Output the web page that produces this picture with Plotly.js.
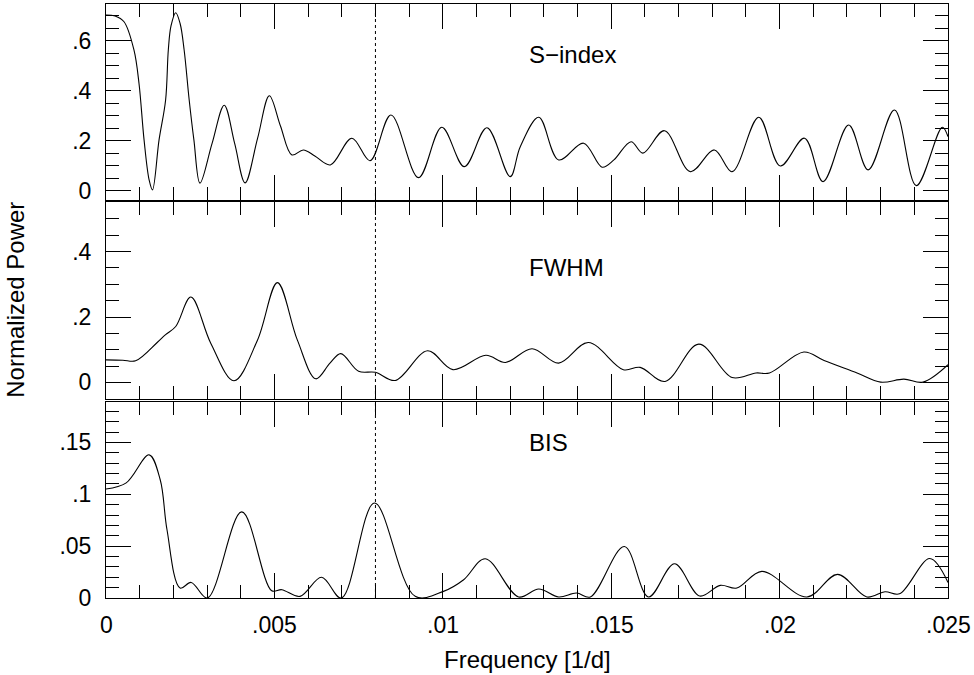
<!DOCTYPE html>
<html>
<head>
<meta charset="utf-8">
<script src="https://cdn.plot.ly/plotly-3.0.1.min.js"></script>
<style>html,body{margin:0;padding:0;background:#fff;}#chart{width:974px;height:675px;}</style>
</head>
<body>
<div id="chart"></div>
<script>
// ---- data ----
const sFreq = [0, 0.00027, 0.000535, 0.00083, 0.00098, 0.00113, 0.00128, 0.00138, 0.001575, 0.00177, 0.00185, 0.00193, 0.00207, 0.0022, 0.00232, 0.00247, 0.00261, 0.00279, 0.00315, 0.00351, 0.00382, 0.00413, 0.0045, 0.00485, 0.00518, 0.00552, 0.00586, 0.0062, 0.00666, 0.0073, 0.00784, 0.00846, 0.00928, 0.00997, 0.01064, 0.01131, 0.012, 0.0123, 0.01285, 0.01344, 0.01418, 0.01473, 0.01508, 0.01559, 0.01594, 0.01658, 0.01735, 0.01806, 0.01859, 0.01938, 0.02002, 0.02074, 0.02129, 0.02205, 0.02263, 0.02341, 0.02406, 0.02483, 0.025];
const sPower = [0.704, 0.700, 0.677, 0.564, 0.43, 0.204, 0.044, 0.004, 0.204, 0.364, 0.564, 0.66, 0.713, 0.67, 0.564, 0.364, 0.204, 0.031, 0.19, 0.343, 0.19, 0.032, 0.21, 0.381, 0.26, 0.144, 0.164, 0.14, 0.104, 0.211, 0.121, 0.304, 0.053, 0.255, 0.097, 0.253, 0.057, 0.177, 0.295, 0.124, 0.191, 0.095, 0.124, 0.197, 0.151, 0.241, 0.077, 0.164, 0.077, 0.295, 0.100, 0.211, 0.037, 0.264, 0.084, 0.324, 0.021, 0.255, 0.217];

const fFreq = [0, 0.0005, 0.00088, 0.00152, 0.00177, 0.00207, 0.00252, 0.00311, 0.0038, 0.0045, 0.00509, 0.00568, 0.00623, 0.00665, 0.00697, 0.0075, 0.008, 0.00859, 0.00955, 0.0103, 0.01128, 0.01186, 0.01265, 0.01344, 0.01432, 0.01536, 0.01586, 0.0166, 0.0176, 0.01859, 0.0193, 0.0197, 0.02072, 0.02132, 0.0223, 0.023, 0.02369, 0.02426, 0.025];
const fPower = [0.069, 0.068, 0.066, 0.122, 0.146, 0.171, 0.261, 0.12, 0.005, 0.13, 0.305, 0.13, 0.011, 0.059, 0.088, 0.034, 0.031, 0.006, 0.097, 0.039, 0.083, 0.061, 0.103, 0.059, 0.122, 0.039, 0.046, 0.003, 0.117, 0.015, 0.029, 0.029, 0.093, 0.067, 0.029, 0.001, 0.010, 0.001, 0.054];

const bFreq = [0, 0.0006, 0.00128, 0.00161, 0.00181, 0.0022, 0.00253, 0.00301, 0.00403, 0.00492, 0.00522, 0.00576, 0.0064, 0.00699, 0.00797, 0.00918, 0.01002, 0.01062, 0.01126, 0.01225, 0.01285, 0.01344, 0.01397, 0.01438, 0.01539, 0.01611, 0.01688, 0.01763, 0.01824, 0.01873, 0.01947, 0.02081, 0.02172, 0.02259, 0.02313, 0.02356, 0.02446, 0.025];
const bPower = [0.105, 0.111, 0.138, 0.114, 0.066, 0.0096, 0.015, 0.0, 0.083, 0.007, 0.008, 0.0016, 0.020, 0.0, 0.0915, 0.0016, 0.0064, 0.0176, 0.0379, 0.001, 0.0087, 0.001, 0.0048, 0.001, 0.0497, 0.001, 0.033, 0.0019, 0.0122, 0.0096, 0.0257, 0.001, 0.0228, 0.001, 0.006, 0.004, 0.038, 0.015];

const panelLabels = ["S\u2212index", "FWHM", "BIS"];
const markedFreq = 0.008;
const xTickVals = [0, 0.005, 0.01, 0.015, 0.02, 0.025];
const xTickText = ["0", ".005", ".01", ".015", ".02", ".025"];
const sTickVals = [0, 0.2, 0.4, 0.6];
const sTickText = ["0", ".2", ".4", ".6"];
const fTickVals = [0, 0.2, 0.4];
const fTickText = ["0", ".2", ".4"];
const bTickVals = [0, 0.05, 0.1, 0.15];
const bTickText = ["0", ".05", ".1", ".15"];
const xTitle = "Frequency [1/d]";
const yTitle = "Normalized Power";

// ---- styling ----
const FONT = "Liberation Sans, Arial, Helvetica, sans-serif";
function alias(vals, txt) { const o = {}; vals.forEach((v, i) => { o[String(v)] = txt[i]; }); return o; }

function xAxis(anchor) {
  return {
    anchor: anchor, domain: [0, 1], range: [0, 0.025],
    tickmode: 'linear', tick0: 0, dtick: 0.005,
    showticklabels: false,
    ticks: 'inside', ticklen: 25, tickwidth: 1, tickcolor: '#000',
    minor: { ticks: 'inside', ticklen: 13, tickwidth: 1, tickcolor: '#000', tickmode: 'linear', tick0: 0, dtick: 0.001, showgrid: false },
    showline: true, linecolor: '#000', linewidth: 1, mirror: 'allticks',
    showgrid: false, zeroline: false
  };
}
function yAxis(anchor, domain, range, dtick, minorDtick, vals, txt) {
  return {
    domain: domain, range: range, anchor: anchor,
    tickmode: 'linear', tick0: 0, dtick: dtick,
    labelalias: alias(vals, txt),
    ticks: 'inside', ticklen: 25, tickwidth: 1, tickcolor: '#000',
    minor: { ticks: 'inside', ticklen: 13, tickwidth: 1, tickcolor: '#000', tickmode: 'linear', tick0: 0, dtick: minorDtick, showgrid: false },
    showline: true, linecolor: '#000', linewidth: 1, mirror: 'allticks',
    showgrid: false, zeroline: false,
    tickfont: { family: FONT, size: 23, color: '#000' },
    ticklabelstandoff: 9
  };
}

const lineStyle = { color: '#000', width: 1.1, shape: 'spline', smoothing: 1 };
const traces = [
  { x: bFreq, y: bPower, xaxis: 'x', yaxis: 'y', type: 'scatter', mode: 'lines', line: lineStyle, hoverinfo: 'skip' },
  { x: fFreq, y: fPower, xaxis: 'x2', yaxis: 'y2', type: 'scatter', mode: 'lines', line: lineStyle, hoverinfo: 'skip' },
  { x: sFreq, y: sPower, xaxis: 'x3', yaxis: 'y3', type: 'scatter', mode: 'lines', line: lineStyle, hoverinfo: 'skip' }
];

const annFont = { family: FONT, size: 24, color: '#000' };
const annotations = [
  { text: panelLabels[0], xref: 'x3', yref: 'y3', x: 0.0125, y: 0.544, xanchor: 'left', yanchor: 'middle', showarrow: false, font: annFont },
  { text: panelLabels[1], xref: 'x2', yref: 'y2', x: 0.0125, y: 0.350, xanchor: 'left', yanchor: 'middle', showarrow: false, font: annFont },
  { text: panelLabels[2], xref: 'x', yref: 'y', x: 0.0125, y: 0.1496, xanchor: 'left', yanchor: 'middle', showarrow: false, font: annFont },
  { text: xTitle, xref: 'paper', yref: 'paper', x: 0.5, y: -0.1038, xanchor: 'center', yanchor: 'middle', showarrow: false, font: annFont },
  { text: yTitle, xref: 'paper', yref: 'paper', x: -0.107, y: 0.502, xanchor: 'center', yanchor: 'middle', textangle: -90, showarrow: false, font: annFont }
];
// x tick labels placed at the bottom axis tick values
xTickVals.forEach((v, i) => {
  annotations.push({ text: xTickText[i], xref: 'x', yref: 'paper', x: v, y: -0.0455, xanchor: 'center', yanchor: 'middle', showarrow: false, font: { family: FONT, size: 23, color: '#000' } });
});

const layout = {
  width: 974, height: 675,
  margin: { l: 106, r: 26, t: 4, b: 77, pad: 0 },
  paper_bgcolor: '#fff', plot_bgcolor: '#fff',
  showlegend: false,
  font: { family: FONT, size: 23, color: '#000' },
  xaxis: xAxis('y'),
  xaxis2: xAxis('y2'),
  xaxis3: xAxis('y3'),
  yaxis: yAxis('x', [0, 0.3308], [0, 0.1894], 0.05, 0.01, bTickVals, bTickText),
  yaxis2: yAxis('x2', [0.3354, 0.6663], [-0.05, 0.551], 0.2, 0.05, fTickVals, fTickText),
  yaxis3: yAxis('x3', [0.6702, 1], [-0.036, 0.748], 0.2, 0.05, sTickVals, sTickText),
  shapes: [
    { type: 'line', xref: 'x', yref: 'paper', x0: markedFreq, x1: markedFreq, y0: 0, y1: 1, line: { color: '#000', width: 1, dash: 'dot' } }
  ],
  annotations: annotations
};

Plotly.newPlot('chart', traces, layout, { displayModeBar: false, staticPlot: true });
</script>
</body>
</html>
